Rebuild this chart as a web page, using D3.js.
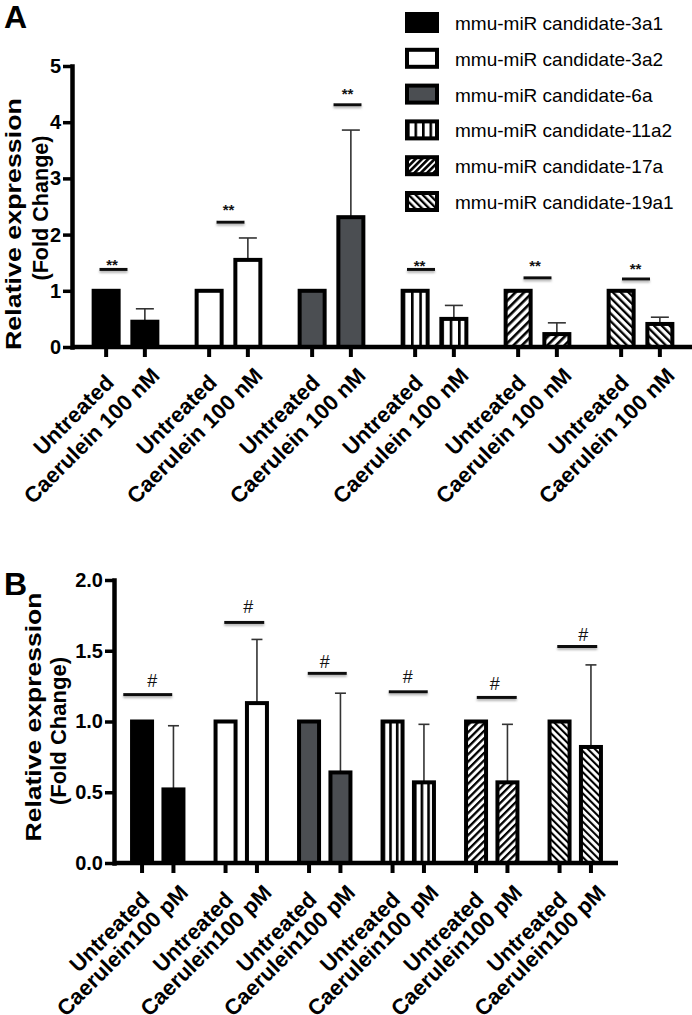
<!DOCTYPE html>
<html><head><meta charset="utf-8">
<script src="https://cdn.jsdelivr.net/npm/d3@7/dist/d3.min.js"></script>
<style>body{margin:0;background:#fff}svg{display:block;font-family:"Liberation Sans",Arial,Helvetica,sans-serif}</style>
</head><body>
<script>
// ---------- data ----------
const candidates = ["mmu-miR candidate-3a1","mmu-miR candidate-3a2","mmu-miR candidate-6a","mmu-miR candidate-11a2","mmu-miR candidate-17a","mmu-miR candidate-19a1"];
const conditionsA = ["Untreated","Caerulein 100 nM"];
const conditionsB = ["Untreated","Caerulein100 pM"];
const untreatedA = [1,1,1,1,1,1];
const caeruleinA = [0.45,1.55,2.31,0.50,0.23,0.41];
const caeruleinErrA = [0.23,0.39,1.55,0.24,0.20,0.12];
const sigLineA = [1.38,2.22,4.31,1.38,1.23,1.21];
const sigMarkA = [1.52,2.51,4.57,1.50,1.50,1.46];
const yTicksA = [0,1,2,3,4,5];
const untreatedB = [1,1,1,1,1,1];
const caeruleinB = [0.52,1.13,0.64,0.57,0.57,0.82];
const caeruleinErrB = [0.45,0.45,0.56,0.41,0.41,0.58];
const sigLineB = [1.19,1.70,1.34,1.21,1.17,1.53];
const sigMarkB = [1.29,1.81,1.42,1.32,1.27,1.61];
const yTicksB = [0,0.5,1,1.5,2];
const sigLabelA = "**", sigLabelB = "#";
const yTitle = ["Relative expression","(Fold Change)"];

// ---------- layout (annotation placement) ----------
const sigShiftA = [-12,2,16,-13.5,0,-4.5], sigWidthA = [28,28,28,28,28,28], markShiftA = [-13.5,0,16,-15,-2.5,-5];
const sigShiftB = [-10,3,2.5,0,5,2], sigWidthB = [49,40,39,39,40,40], markShiftB = [-5.5,7,0,-0.5,3,8];

const W = 692, H = 1015;
const svg = d3.select("body").append("svg").attr("width",W).attr("height",H);
const defs = svg.append("defs");

// shadow filter for significance bars
const f = defs.append("filter").attr("id","sh").attr("x","-20%").attr("y","-150%").attr("width","140%").attr("height","450%");
f.append("feDropShadow").attr("dx",0).attr("dy",2).attr("stdDeviation",1.2).attr("flood-color","#777").attr("flood-opacity",0.55);

// patterns
function vStripe(id, n){
  const p = defs.append("pattern").attr("id",id).attr("patternUnits","objectBoundingBox")
    .attr("width",1/n).attr("height",1);
  p.append("rect").attr("width",100).attr("height",2000).attr("fill","#fff");
  p.append("rect").attr("x",0).attr("width",2.6).attr("height",2000).attr("fill","#000");
}
vStripe("vA",3); vStripe("vB",3); vStripe("vL",4);
function dStripe(id, period, lw, angle){
  const p = defs.append("pattern").attr("id",id).attr("patternUnits","userSpaceOnUse")
    .attr("width",period).attr("height",period).attr("patternTransform",`rotate(${angle})`);
  p.append("rect").attr("width",period).attr("height",period).attr("fill","#fff");
  p.append("rect").attr("width",lw).attr("height",period).attr("fill","#000");
}
dStripe("dA",6,2.6,45); dStripe("dB",5.2,2.3,45); dStripe("dL",4.5,2.6,45);
dStripe("bA",5.5,2.3,-45); dStripe("bB",5,2.1,-45); dStripe("bL",5,2.3,-45);

function fillFor(k, panel){
  return ["#000","#fff","#4b4e52",`url(#v${panel})`,`url(#d${panel})`,`url(#b${panel})`][k];
}

// ---------- panel drawing ----------
function drawPanel(o){
  const g = svg.append("g");
  const y = d3.scaleLinear().domain(o.yDomain).range(o.yRange);
  const xg = d3.scaleBand().domain(candidates).range(o.xRange).padding(0);
  const xc = d3.scalePoint().domain(o.conditions).range([0, xg.bandwidth()]).padding(0.83);
  const cx = (k,i) => xg(candidates[k]) + xc(o.conditions[i]);
  const gc = k => xg(candidates[k]) + xg.bandwidth()/2;

  const rows = [];
  candidates.forEach((c,k)=>{
    rows.push({k, i:0, v:o.untreated[k], e:0});
    rows.push({k, i:1, v:o.caerulein[k], e:o.err[k]});
  });

  // error bars
  const eb = g.selectAll(".eb").data(rows.filter(d=>d.e>0)).join("g");
  eb.append("line").attr("x1",d=>cx(d.k,d.i)).attr("x2",d=>cx(d.k,d.i))
    .attr("y1",d=>y(d.v)).attr("y2",d=>y(d.v+d.e)).attr("stroke","#333").attr("stroke-width",1.6);
  eb.append("line").attr("x1",d=>cx(d.k,d.i)-o.cap/2).attr("x2",d=>cx(d.k,d.i)+o.cap/2)
    .attr("y1",d=>y(d.v+d.e)).attr("y2",d=>y(d.v+d.e)).attr("stroke","#333").attr("stroke-width",1.6);

  // bars
  g.selectAll(".bar").data(rows).join("rect")
    .attr("x",d=>cx(d.k,d.i)-o.bw/2).attr("width",o.bw)
    .attr("y",d=>y(d.v)).attr("height",d=>y(0)-y(d.v))
    .attr("fill",d=>fillFor(d.k,o.panel)).attr("stroke","#000").attr("stroke-width",4);

  // x axis line + ticks
  g.append("line").attr("x1",o.axisX).attr("x2",o.xEnd).attr("y1",y(0)).attr("y2",y(0))
    .attr("stroke","#000").attr("stroke-width",4.5);
  g.selectAll(".xt").data(rows).join("line")
    .attr("x1",d=>cx(d.k,d.i)).attr("x2",d=>cx(d.k,d.i))
    .attr("y1",y(0)).attr("y2",y(0)+10).attr("stroke","#000").attr("stroke-width",4);
  // x labels
  g.selectAll(".xl").data(rows).join("text")
    .attr("transform",d=>`translate(${cx(d.k,d.i)+9},${y(0)+o.labDy}) rotate(-45)`)
    .attr("text-anchor","end").attr("dx",d=>d.i===1?10:0)
    .attr("font-size",22).attr("font-weight","bold").text(d=>o.conditions[d.i]);

  // y axis
  const ya = g.append("g").attr("transform",`translate(${o.axisX},0)`)
    .call(d3.axisLeft(y).tickValues(o.ticks).tickFormat(o.fmt).tickSize(9).tickSizeOuter(0).tickPadding(2));
  ya.select(".domain").attr("stroke-width",4.5).attr("stroke-linecap","square");
  ya.selectAll(".tick line").attr("stroke-width",3.5);
  ya.selectAll(".tick text").attr("font-size",20).attr("font-weight","bold").attr("fill","#000")
    .attr("font-family","'Liberation Sans',Arial,sans-serif");

  // y title
  o.titles.forEach((t,j)=>{
    g.append("text").attr("transform",`translate(${t.x},${t.y}) rotate(-90)`)
      .attr("text-anchor","middle").attr("font-size",22).attr("font-weight","bold")
      .attr("textLength",t.len).attr("lengthAdjust","spacingAndGlyphs").text(yTitle[j]);
  });

  // significance
  candidates.forEach((c,k)=>{
    const lx = gc(k)+o.sigShift[k], lw = o.sigWidth[k];
    g.append("rect").attr("x",lx-lw/2).attr("width",lw).attr("y",y(o.sigLine[k])-1.5).attr("height",3)
      .attr("fill","#111").attr("filter","url(#sh)");
    g.append("text").attr("x",gc(k)+o.markShift[k]).attr("y",y(o.sigMark[k])+o.markBase)
      .attr("text-anchor","middle").attr("font-size",o.markSize).attr("font-weight",o.markWeight)
      .attr("fill","#111").text(o.mark);
  });

  // panel letter
  g.append("text").attr("x",4).attr("y",o.letterY).attr("font-size",32).attr("font-weight","bold").text(o.letter);
}

drawPanel({panel:"A", letter:"A", letterY:28, yDomain:[0,5], yRange:[347,66], xRange:[74,692],
  conditions:conditionsA, untreated:untreatedA, caerulein:caeruleinA, err:caeruleinErrA,
  ticks:yTicksA, fmt:d3.format("d"), axisX:72, xEnd:692, bw:25, cap:18, labDy:37,
  titles:[{x:20.5,y:224,len:252},{x:48.4,y:208,len:145}],
  sigLine:sigLineA, sigMark:sigMarkA, sigShift:sigShiftA, sigWidth:sigWidthA, markShift:markShiftA,
  mark:sigLabelA, markSize:15, markWeight:"bold", markBase:8.7});

drawPanel({panel:"B", letter:"B", letterY:595, yDomain:[0,2], yRange:[863,580], xRange:[116,617],
  conditions:conditionsB, untreated:untreatedB, caerulein:caeruleinB, err:caeruleinErrB,
  ticks:yTicksB, fmt:d3.format(".1f"), axisX:114, xEnd:618, bw:20, cap:11, labDy:38,
  titles:[{x:40.5,y:717,len:249},{x:65.5,y:731,len:148}],
  sigLine:sigLineB, sigMark:sigMarkB, sigShift:sigShiftB, sigWidth:sigWidthB, markShift:markShiftB,
  mark:sigLabelB, markSize:18, markWeight:"normal", markBase:6.3});

// ---------- legend ----------
const lg = svg.append("g");
const ly = d3.scalePoint().domain(candidates).range([12,191]);
lg.selectAll("rect").data(candidates).join("rect")
  .attr("x",407).attr("y",d=>ly(d)+2).attr("width",30).attr("height",17)
  .attr("fill",(d,k)=>fillFor(k,"L")).attr("stroke","#000").attr("stroke-width",4);
lg.selectAll("text").data(candidates).join("text")
  .attr("x",455).attr("y",d=>ly(d)+18).attr("font-size",19).attr("fill","#000").text(d=>d);
</script>
</body></html>
